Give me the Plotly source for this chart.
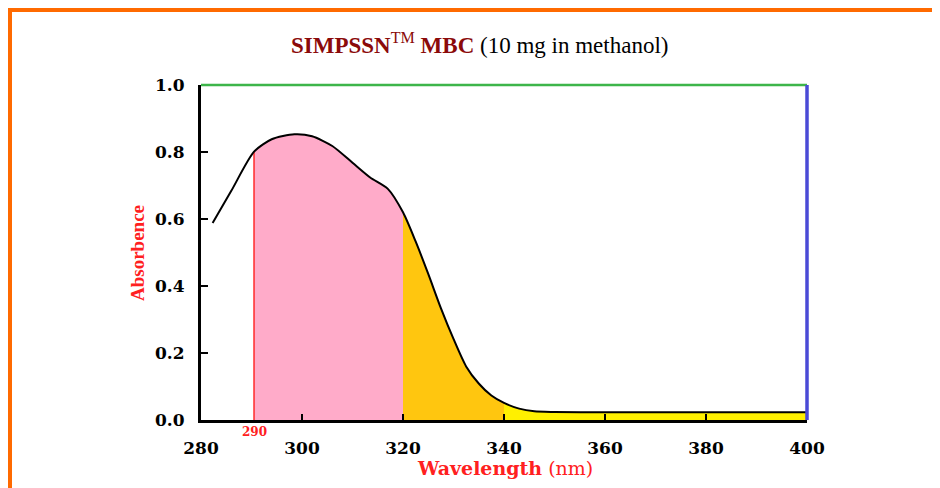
import plotly.graph_objects as go

# ---- data ----
wavelength = [282.3, 286, 290.5, 294, 298.5, 302, 306, 310, 313.5, 317, 320,
              322.5, 325, 327.5, 330, 332.5, 335, 337.5, 340, 343, 346, 350,
              360, 370, 380, 390, 400]
absorbance = [0.588, 0.684, 0.801, 0.838, 0.853, 0.847, 0.818, 0.768, 0.724, 0.690, 0.620,
              0.533, 0.436, 0.334, 0.242, 0.160, 0.109, 0.073, 0.051, 0.034, 0.026, 0.024,
              0.023, 0.023, 0.023, 0.023, 0.023]

band_edges = [290.5, 320, 340, 400]
band_colors = ["#FFABC9", "#FFC60F", "#FFF000"]
marker_wl = 290.5
marker_label = "290"

x_ticks = [280, 300, 320, 340, 360, 380, 400]
y_ticks = [0.0, 0.2, 0.4, 0.6, 0.8, 1.0]

SERIF = "Liberation Serif"
WIDE = "DejaVu Serif"
SMOOTH = 0.7

fig = go.Figure()

# coloured bands under the curve
for i, col in enumerate(band_colors):
    lo, hi = band_edges[i], band_edges[i + 1]
    xs = [w for w in wavelength if lo <= w <= hi]
    ys = [a for w, a in zip(wavelength, absorbance) if lo <= w <= hi]
    fig.add_trace(go.Scatter(x=xs, y=ys, mode="lines", fill="tozeroy",
                             fillcolor=col, line=dict(width=0, shape="spline", smoothing=SMOOTH),
                             hoverinfo="skip", showlegend=False))

# red marker line at 290
m_y = absorbance[wavelength.index(marker_wl)]
fig.add_trace(go.Scatter(x=[marker_wl, marker_wl], y=[0, m_y], mode="lines",
                         line=dict(color="#FF2A2A", width=1.5), showlegend=False,
                         hoverinfo="skip"))

# spectrum curve
fig.add_trace(go.Scatter(x=wavelength, y=absorbance, mode="lines",
                         line=dict(color="black", width=2, shape="spline", smoothing=SMOOTH),
                         showlegend=False))

OFF = 8  # page body margin
L, T = 201 - OFF, 85 - OFF
pw, ph = 606, 335
W, H = 940 - OFF, 488 - OFF
R = W - L - pw
B = H - T - ph

def px(xs):
    return (xs - OFF - L) / pw

def py(ys):
    return (T + ph - (ys - OFF)) / ph

shapes = [
    # top (green) and right (blue) frame lines
    dict(type="line", xref="paper", yref="paper", x0=0, x1=1, y0=1, y1=1,
         line=dict(color="#3DB54A", width=2.5)),
    dict(type="line", xref="paper", yref="paper", x0=1, x1=1, y0=0, y1=1,
         line=dict(color="#4A4AD6", width=3.5)),
    # orange page border (top and left)
    dict(type="line", xref="paper", yref="paper", x0=px(8), x1=px(950), y0=py(10), y1=py(10),
         line=dict(color="#FF6A00", width=4)),
    dict(type="line", xref="paper", yref="paper", x0=px(10), x1=px(10), y0=py(8), y1=py(500),
         line=dict(color="#FF6A00", width=4)),
]

annotations = [
    dict(text="<b>SIMPSSN</b><sup>TM</sup><b> MBC</b><span style='color:black'> (10 mg in methanol)</span>",
         xref="paper", yref="paper", x=px(479), y=py(43), showarrow=False,
         font=dict(family=SERIF, size=23, color="#8B0A0A"), xanchor="center", yanchor="middle"),
    dict(text="<b>Wavelength</b> (nm)", xref="paper", yref="paper", x=px(505), y=py(468),
         showarrow=False, font=dict(family=WIDE, size=19, color="#FF2020"),
         xanchor="center", yanchor="middle"),
    dict(text="<b>Absorbence</b>", xref="paper", yref="paper", x=px(137), y=py(253),
         showarrow=False, textangle=-90, font=dict(family=SERIF, size=19, color="#FF2020"),
         xanchor="center", yanchor="middle"),
    dict(text="<b>" + marker_label + "</b>", xref="x", yref="paper", x=marker_wl, y=py(432),
         showarrow=False, font=dict(family=WIDE, size=12, color="#FF2020"),
         xanchor="center", yanchor="middle"),
]

fig.update_layout(
    width=W, height=H,
    margin=dict(l=L, r=R, t=T, b=B),
    paper_bgcolor="white", plot_bgcolor="white",
    shapes=shapes, annotations=annotations,
    showlegend=False,
)

fig.update_xaxes(range=[280, 400], tickvals=x_ticks, ticktext=[str(v) for v in x_ticks],
                 showgrid=False, zeroline=False, showline=True, linecolor="black", linewidth=3,
                 ticks="inside", ticklen=6, tickwidth=2, tickcolor="black",
                 tickfont=dict(family=WIDE, size=17, color="black", weight="bold"),
                 ticklabelstandoff=11)
fig.update_yaxes(range=[0, 1], tickvals=y_ticks, ticktext=["%.1f" % v for v in y_ticks],
                 showgrid=False, zeroline=False, showline=True, linecolor="black", linewidth=3,
                 ticks="inside", ticklen=7, tickwidth=2, tickcolor="black",
                 tickfont=dict(family=WIDE, size=17, color="black", weight="bold"),
                 ticklabelstandoff=10)

fig.write_html("out.html")
